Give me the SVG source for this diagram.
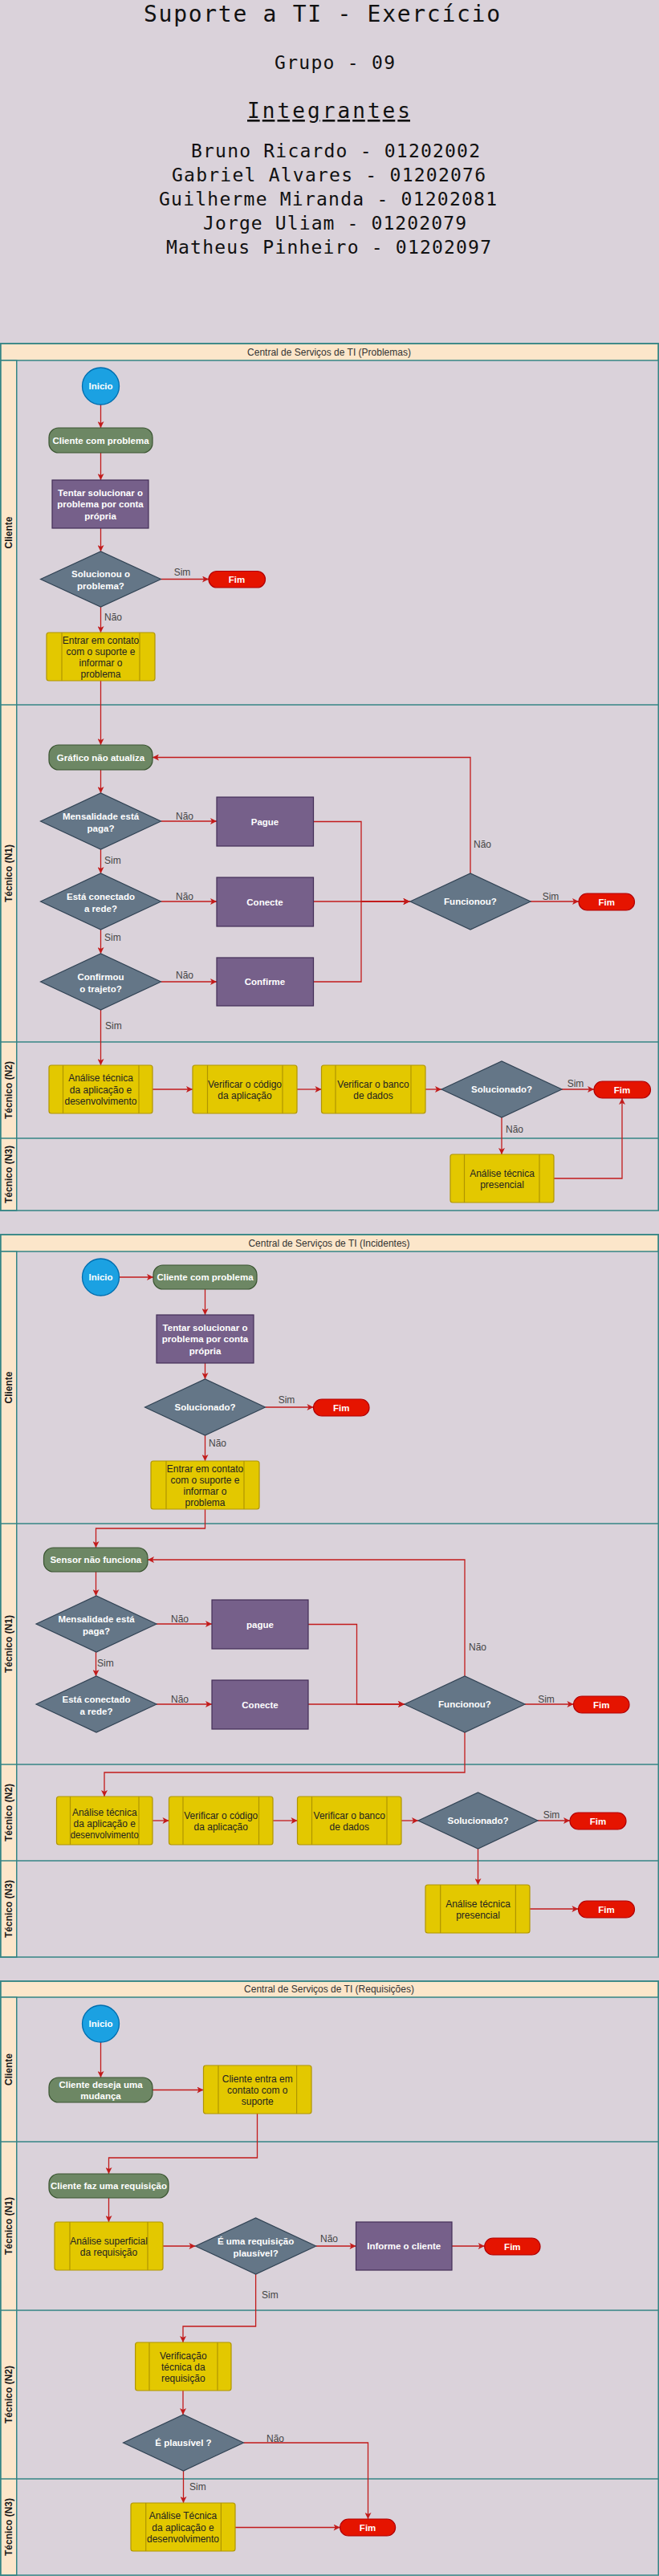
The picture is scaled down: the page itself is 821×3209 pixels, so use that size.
<svg xmlns="http://www.w3.org/2000/svg" width="821" height="3209" viewBox="0 0 821 3209">
<defs>
<style>
.bg{fill:#dad2da}
.pool{fill:none;stroke:#358585;stroke-width:1.5}
.hdr{fill:#fce6ca;stroke:#358585;stroke-width:1.5}
.ln{stroke:#358585;stroke-width:1.5;fill:none}
.e{fill:none;stroke:#c21b1b;stroke-width:1.3}
.ea{fill:none;stroke:#c21b1b;stroke-width:1.3;marker-end:url(#arr)}
.st{fill:#1ba1e2;stroke:#006eaf;stroke-width:1.3}
.gr{fill:#6d8764;stroke:#3a5431;stroke-width:1.2}
.pu{fill:#76608a;stroke:#432d57;stroke-width:1.2}
.di{fill:#647687;stroke:#314354;stroke-width:1.2}
.fim{fill:#e51400;stroke:#b20000;stroke-width:1.2}
.ye{fill:#e3c800;stroke:#b09500;stroke-width:1.2}
.yl{stroke:#b09500;stroke-width:1.2}
.w{font-family:"Liberation Sans",Arial,sans-serif;font-size:11.5px;font-weight:bold;fill:#fff;text-anchor:middle}
.k{font-family:"Liberation Sans",Arial,sans-serif;font-size:12px;fill:#222;text-anchor:middle}
.l{font-family:"Liberation Sans",Arial,sans-serif;font-size:12px;fill:#444}
.lc{font-family:"Liberation Sans",Arial,sans-serif;font-size:12px;fill:#444;text-anchor:middle}
.lane{font-family:"Liberation Sans",Arial,sans-serif;font-size:12px;font-weight:bold;fill:#1a1a1a;text-anchor:middle}
.h{font-family:"Liberation Sans",Arial,sans-serif;font-size:12px;fill:#333;text-anchor:middle}
.mono{font-family:"DejaVu Sans Mono","Liberation Mono",monospace;fill:#111}
</style>
<marker id="arr" viewBox="0 0 10 10" refX="10" refY="5" markerWidth="9" markerHeight="8" markerUnits="userSpaceOnUse" orient="auto">
<path d="M0,0 L10,5 L0,10 L2.5,5 z" fill="#c21b1b"/>
</marker>
</defs>
<rect class="bg" x="0" y="0" width="821" height="3209"/>

<g id="titulo">
<text class="mono" x="179" y="27" font-size="28" textLength="444" lengthAdjust="spacing">Suporte a TI - Exercício</text>
<text class="mono" x="342" y="86" font-size="23" textLength="150" lengthAdjust="spacing">Grupo - 09</text>
<text class="mono" x="308" y="147" font-size="26" textLength="203" lengthAdjust="spacing" text-decoration="underline">Integrantes</text>
<text class="mono" x="238" y="196" font-size="23" textLength="360" lengthAdjust="spacing">Bruno Ricardo - 01202002</text>
<text class="mono" x="214" y="226" font-size="23" textLength="391" lengthAdjust="spacing">Gabriel Alvares - 01202076</text>
<text class="mono" x="198" y="256" font-size="23" textLength="421" lengthAdjust="spacing">Guilherme Miranda - 01202081</text>
<text class="mono" x="253" y="286" font-size="23" textLength="328" lengthAdjust="spacing">Jorge Uliam - 01202079</text>
<text class="mono" x="207" y="316" font-size="23" textLength="405" lengthAdjust="spacing">Matheus Pinheiro - 01202097</text>
</g>

<!-- ================= POOL 1: Problemas ================= -->
<g id="pool-problemas">
<rect class="hdr" x="0.75" y="428" width="819.5" height="21"/>
<text class="h" x="410" y="442.5">Central de Serviços de TI (Problemas)</text>
<rect class="hdr" x="0.75" y="449" width="20" height="1059"/>
<rect class="pool" x="0.75" y="428" width="819.5" height="1080"/>
<line class="ln" x1="0.75" y1="878" x2="820.25" y2="878"/>
<line class="ln" x1="0.75" y1="1298" x2="820.25" y2="1298"/>
<line class="ln" x1="0.75" y1="1418" x2="820.25" y2="1418"/>
<text class="lane" transform="translate(15,663.5) rotate(-90)">Cliente</text>
<text class="lane" transform="translate(15,1088) rotate(-90)">Técnico (N1)</text>
<text class="lane" transform="translate(15,1358) rotate(-90)">Técnico (N2)</text>
<text class="lane" transform="translate(15,1463) rotate(-90)">Técnico (N3)</text>
</g>

<g id="p-connectors">
<line class="ea" x1="125.5" y1="504" x2="125.5" y2="533"/>
<line class="ea" x1="125.5" y1="564" x2="125.5" y2="598"/>
<line class="ea" x1="125.5" y1="658" x2="125.5" y2="687"/>
<line class="ea" x1="200.5" y1="721.5" x2="260" y2="721.5"/>
<text class="lc" x="227" y="717">Sim</text>
<line class="ea" x1="125.5" y1="756" x2="125.5" y2="788"/>
<text class="l" x="130" y="773">Não</text>
<line class="ea" x1="125.5" y1="848" x2="125.5" y2="928"/>
<line class="ea" x1="125.5" y1="959" x2="125.5" y2="988"/>
<line class="ea" x1="200.5" y1="1023" x2="270" y2="1023"/>
<text class="lc" x="230" y="1021">Não</text>
<line class="ea" x1="125.5" y1="1058" x2="125.5" y2="1088"/>
<text class="l" x="130" y="1076">Sim</text>
<line class="ea" x1="200.5" y1="1123" x2="270" y2="1123"/>
<text class="lc" x="230" y="1121">Não</text>
<line class="ea" x1="125.5" y1="1158" x2="125.5" y2="1188"/>
<text class="l" x="130" y="1172">Sim</text>
<line class="ea" x1="200.5" y1="1223" x2="270" y2="1223"/>
<text class="lc" x="230" y="1219">Não</text>
<line class="ea" x1="125.5" y1="1258" x2="125.5" y2="1327"/>
<text class="l" x="131" y="1282">Sim</text>
<path class="ea" d="M390.5,1023.5 H450 V1123 H510.5"/>
<path class="ea" d="M390.5,1123 H510.5"/>
<path class="ea" d="M390.5,1223 H450 V1123 H510.5"/>
<line class="ea" x1="661" y1="1123" x2="721" y2="1123"/>
<text class="lc" x="686" y="1121">Sim</text>
<path class="ea" d="M586,1088 V943.5 H190"/>
<text class="l" x="590" y="1056">Não</text>
<line class="ea" x1="190" y1="1357" x2="240" y2="1357"/>
<line class="ea" x1="370" y1="1357" x2="400.5" y2="1357"/>
<line class="ea" x1="530" y1="1357" x2="550" y2="1357"/>
<line class="ea" x1="700" y1="1357" x2="740" y2="1357"/>
<text class="lc" x="717" y="1354">Sim</text>
<line class="ea" x1="625" y1="1392" x2="625" y2="1438"/>
<text class="l" x="630" y="1411">Não</text>
<path class="ea" d="M690,1468 H775 V1368"/>
</g>

<g id="p-inicio"><circle class="st" cx="125.5" cy="481" r="23"/><text class="w" x="125.5" y="485">Inicio</text></g>
<g id="p-cliente"><rect class="gr" x="61" y="533" width="129" height="31" rx="12"/><text class="w" x="125.5" y="552.5">Cliente com problema</text></g>
<g id="p-tentar"><rect class="pu" x="65" y="598" width="120" height="60"/><text class="w" x="125" y="617.5">Tentar solucionar o</text><text class="w" x="125" y="632">problema por conta</text><text class="w" x="125" y="646.5">própria</text></g>
<g id="p-solucionou"><polygon class="di" points="50.5,721.5 125.5,687 200.5,721.5 125.5,756"/><text class="w" x="125.5" y="719">Solucionou o</text><text class="w" x="125.5" y="733.5">problema?</text></g>
<g id="p-fim1"><rect class="fim" x="260" y="711.5" width="70.5" height="20.5" rx="10.25"/><text class="w" x="295" y="726">Fim</text></g>
<g id="p-entrar"><rect class="ye" x="58" y="788" width="135" height="60" rx="3"/><line class="yl" x1="77" y1="788" x2="77" y2="848"/><line class="yl" x1="174" y1="788" x2="174" y2="848"/><text class="k" x="125.5" y="802">Entrar em contato</text><text class="k" x="125.5" y="816">com o suporte e</text><text class="k" x="125.5" y="830">informar o</text><text class="k" x="125.5" y="844">problema</text></g>
<g id="p-grafico"><rect class="gr" x="61" y="928" width="129" height="31" rx="12"/><text class="w" x="125.5" y="947.5">Gráfico não atualiza</text></g>
<g id="p-mensalidade"><polygon class="di" points="50.5,1023 125.5,988 200.5,1023 125.5,1058"/><text class="w" x="125.5" y="1021">Mensalidade está</text><text class="w" x="125.5" y="1035.5">paga?</text></g>
<g id="p-pague"><rect class="pu" x="270" y="993" width="120.5" height="61"/><text class="w" x="330" y="1027.5">Pague</text></g>
<g id="p-conectado"><polygon class="di" points="50.5,1123 125.5,1088 200.5,1123 125.5,1158"/><text class="w" x="125.5" y="1121">Está conectado</text><text class="w" x="125.5" y="1135.5">a rede?</text></g>
<g id="p-conecte"><rect class="pu" x="270" y="1093" width="120.5" height="61"/><text class="w" x="330" y="1127.5">Conecte</text></g>
<g id="p-confirmou"><polygon class="di" points="50.5,1223 125.5,1188 200.5,1223 125.5,1258"/><text class="w" x="125.5" y="1221">Confirmou</text><text class="w" x="125.5" y="1235.5">o trajeto?</text></g>
<g id="p-confirme"><rect class="pu" x="270" y="1193" width="120.5" height="60"/><text class="w" x="330" y="1227">Confirme</text></g>
<g id="p-funcionou"><polygon class="di" points="511,1123 586,1088 661,1123 586,1158"/><text class="w" x="586" y="1127">Funcionou?</text></g>
<g id="p-fim2"><rect class="fim" x="721" y="1113" width="69.5" height="21" rx="10.5"/><text class="w" x="755.75" y="1127.5">Fim</text></g>
<g id="p-analise"><rect class="ye" x="61" y="1327" width="129" height="60" rx="3"/><line class="yl" x1="78.5" y1="1327" x2="78.5" y2="1387"/><line class="yl" x1="173" y1="1327" x2="173" y2="1387"/><text class="k" x="125.5" y="1347">Análise técnica</text><text class="k" x="125.5" y="1361.5">da aplicação e</text><text class="k" x="125.5" y="1376">desenvolvimento</text></g>
<g id="p-codigo"><rect class="ye" x="240" y="1327" width="130" height="60" rx="3"/><line class="yl" x1="258.5" y1="1327" x2="258.5" y2="1387"/><line class="yl" x1="352" y1="1327" x2="352" y2="1387"/><text class="k" x="305" y="1355">Verificar o código</text><text class="k" x="305" y="1369">da aplicação</text></g>
<g id="p-banco"><rect class="ye" x="400.5" y="1327" width="129.5" height="60" rx="3"/><line class="yl" x1="418" y1="1327" x2="418" y2="1387"/><line class="yl" x1="512" y1="1327" x2="512" y2="1387"/><text class="k" x="465" y="1355">Verificar o banco</text><text class="k" x="465" y="1369">de dados</text></g>
<g id="p-solucionado"><polygon class="di" points="550,1357 625,1322 700,1357 625,1392"/><text class="w" x="625" y="1361">Solucionado?</text></g>
<g id="p-fim3"><rect class="fim" x="740" y="1347" width="70.5" height="21" rx="10.5"/><text class="w" x="775" y="1361.5">Fim</text></g>
<g id="p-presencial"><rect class="ye" x="561" y="1438" width="129" height="60" rx="3"/><line class="yl" x1="578.5" y1="1438" x2="578.5" y2="1498"/><line class="yl" x1="672" y1="1438" x2="672" y2="1498"/><text class="k" x="625.5" y="1466">Análise técnica</text><text class="k" x="625.5" y="1480">presencial</text></g>

<!-- ================= POOL 2: Incidentes ================= -->
<g id="pool-incidentes">
<rect class="hdr" x="0.75" y="1538" width="819.5" height="21"/>
<text class="h" x="410" y="1552.5">Central de Serviços de TI (Incidentes)</text>
<rect class="hdr" x="0.75" y="1559" width="20" height="879"/>
<rect class="pool" x="0.75" y="1538" width="819.5" height="900"/>
<line class="ln" x1="0.75" y1="1898" x2="820.25" y2="1898"/>
<line class="ln" x1="0.75" y1="2198" x2="820.25" y2="2198"/>
<line class="ln" x1="0.75" y1="2318" x2="820.25" y2="2318"/>
<text class="lane" transform="translate(15,1728.5) rotate(-90)">Cliente</text>
<text class="lane" transform="translate(15,2048) rotate(-90)">Técnico (N1)</text>
<text class="lane" transform="translate(15,2258) rotate(-90)">Técnico (N2)</text>
<text class="lane" transform="translate(15,2378) rotate(-90)">Técnico (N3)</text>
</g>

<g id="i-connectors">
<line class="ea" x1="148.5" y1="1591" x2="191" y2="1591"/>
<line class="ea" x1="255.5" y1="1606" x2="255.5" y2="1638"/>
<line class="ea" x1="255.5" y1="1698" x2="255.5" y2="1718"/>
<line class="ea" x1="330.5" y1="1753" x2="390.5" y2="1753"/>
<text class="lc" x="357" y="1748">Sim</text>
<line class="ea" x1="255.5" y1="1788" x2="255.5" y2="1820"/>
<text class="l" x="260" y="1802">Não</text>
<path class="ea" d="M255.5,1880 V1904 H119.5 V1928"/>
<line class="ea" x1="119.5" y1="1958" x2="119.5" y2="1988"/>
<line class="ea" x1="195" y1="2023" x2="264" y2="2023"/>
<text class="lc" x="224" y="2021">Não</text>
<line class="ea" x1="119.5" y1="2058" x2="119.5" y2="2088"/>
<text class="l" x="121" y="2076">Sim</text>
<line class="ea" x1="195" y1="2123" x2="264" y2="2123"/>
<text class="lc" x="224" y="2121">Não</text>
<path class="ea" d="M384,2023.5 H444.5 V2123 H504"/>
<path class="ea" d="M384,2123 H504"/>
<line class="ea" x1="654" y1="2123" x2="714.5" y2="2123"/>
<text class="lc" x="680.5" y="2121">Sim</text>
<path class="ea" d="M579,2088 V1943 H184"/>
<text class="l" x="584" y="2056">Não</text>
<path class="ea" d="M579,2158 V2208 H130 V2238"/>
<line class="ea" x1="190" y1="2268" x2="210.5" y2="2268"/>
<line class="ea" x1="340" y1="2268" x2="370.5" y2="2268"/>
<line class="ea" x1="500" y1="2268" x2="521" y2="2268"/>
<line class="ea" x1="670" y1="2268" x2="710" y2="2268"/>
<text class="lc" x="687" y="2265">Sim</text>
<line class="ea" x1="595.5" y1="2303" x2="595.5" y2="2348"/>
<line class="ea" x1="660" y1="2378" x2="720.5" y2="2378"/>
</g>

<g id="i-inicio"><circle class="st" cx="125.5" cy="1591" r="23"/><text class="w" x="125.5" y="1595">Inicio</text></g>
<g id="i-cliente"><rect class="gr" x="191" y="1576" width="129" height="30" rx="12"/><text class="w" x="255.5" y="1595">Cliente com problema</text></g>
<g id="i-tentar"><rect class="pu" x="195" y="1638" width="121" height="60"/><text class="w" x="255.5" y="1657.5">Tentar solucionar o</text><text class="w" x="255.5" y="1672">problema por conta</text><text class="w" x="255.5" y="1686.5">própria</text></g>
<g id="i-solucionado"><polygon class="di" points="180.5,1753 255.5,1718 330.5,1753 255.5,1788"/><text class="w" x="255.5" y="1757">Solucionado?</text></g>
<g id="i-fim1"><rect class="fim" x="390.5" y="1743" width="69.5" height="21" rx="10.5"/><text class="w" x="425.25" y="1757.5">Fim</text></g>
<g id="i-entrar"><rect class="ye" x="188" y="1820" width="135" height="60" rx="3"/><line class="yl" x1="207" y1="1820" x2="207" y2="1880"/><line class="yl" x1="304" y1="1820" x2="304" y2="1880"/><text class="k" x="255.5" y="1834">Entrar em contato</text><text class="k" x="255.5" y="1848">com o suporte e</text><text class="k" x="255.5" y="1862">informar o</text><text class="k" x="255.5" y="1876">problema</text></g>
<g id="i-sensor"><rect class="gr" x="54.5" y="1928" width="129.5" height="30" rx="12"/><text class="w" x="119.3" y="1947">Sensor não funciona</text></g>
<g id="i-mensalidade"><polygon class="di" points="45,2023 120,1988 195,2023 120,2058"/><text class="w" x="120" y="2021">Mensalidade está</text><text class="w" x="120" y="2035.5">paga?</text></g>
<g id="i-pague"><rect class="pu" x="264" y="1993" width="120" height="61"/><text class="w" x="324" y="2027.5">pague</text></g>
<g id="i-conectado"><polygon class="di" points="45,2123 120,2088 195,2123 120,2158"/><text class="w" x="120" y="2121">Está conectado</text><text class="w" x="120" y="2135.5">a rede?</text></g>
<g id="i-conecte"><rect class="pu" x="264" y="2093" width="120" height="61"/><text class="w" x="324" y="2127.5">Conecte</text></g>
<g id="i-funcionou"><polygon class="di" points="504,2123 579,2088 654,2123 579,2158"/><text class="w" x="579" y="2127">Funcionou?</text></g>
<g id="i-fim2"><rect class="fim" x="714.5" y="2113" width="69.5" height="21" rx="10.5"/><text class="w" x="749.25" y="2127.5">Fim</text></g>
<g id="i-analise"><rect class="ye" x="70.5" y="2238" width="119.5" height="60" rx="3"/><line class="yl" x1="87.5" y1="2238" x2="87.5" y2="2298"/><line class="yl" x1="173" y1="2238" x2="173" y2="2298"/><text class="k" x="130.25" y="2262">Análise técnica</text><text class="k" x="130.25" y="2276">da aplicação e</text><text class="k" x="130.25" y="2290" textLength="85" lengthAdjust="spacingAndGlyphs">desenvolvimento</text></g>
<g id="i-codigo"><rect class="ye" x="210.5" y="2238" width="129.5" height="60" rx="3"/><line class="yl" x1="228" y1="2238" x2="228" y2="2298"/><line class="yl" x1="322.5" y1="2238" x2="322.5" y2="2298"/><text class="k" x="275.25" y="2266">Verificar o código</text><text class="k" x="275.25" y="2280">da aplicação</text></g>
<g id="i-banco"><rect class="ye" x="370.5" y="2238" width="129.5" height="60" rx="3"/><line class="yl" x1="388.5" y1="2238" x2="388.5" y2="2298"/><line class="yl" x1="482" y1="2238" x2="482" y2="2298"/><text class="k" x="435.25" y="2266">Verificar o banco</text><text class="k" x="435.25" y="2280">de dados</text></g>
<g id="i-solucionado2"><polygon class="di" points="521,2268 595.5,2233 670,2268 595.5,2303"/><text class="w" x="595.5" y="2272">Solucionado?</text></g>
<g id="i-fim3"><rect class="fim" x="710" y="2258" width="70" height="21" rx="10.5"/><text class="w" x="745" y="2272.5">Fim</text></g>
<g id="i-presencial"><rect class="ye" x="530" y="2348" width="130" height="60" rx="3"/><line class="yl" x1="548.7" y1="2348" x2="548.7" y2="2408"/><line class="yl" x1="642.4" y1="2348" x2="642.4" y2="2408"/><text class="k" x="595.5" y="2376">Análise técnica</text><text class="k" x="595.5" y="2390">presencial</text></g>
<g id="i-fim4"><rect class="fim" x="720.5" y="2368" width="70" height="21" rx="10.5"/><text class="w" x="755.5" y="2382.5">Fim</text></g>

<!-- ================= POOL 3: Requisições ================= -->
<g id="pool-requisicoes">
<rect class="hdr" x="0.75" y="2468" width="819.5" height="20"/>
<text class="h" x="410" y="2482">Central de Serviços de TI (Requisições)</text>
<rect class="hdr" x="0.75" y="2488" width="20" height="720"/>
<rect class="pool" x="0.75" y="2468" width="819.5" height="740"/>
<line class="ln" x1="0.75" y1="2668" x2="820.25" y2="2668"/>
<line class="ln" x1="0.75" y1="2878" x2="820.25" y2="2878"/>
<line class="ln" x1="0.75" y1="3088" x2="820.25" y2="3088"/>
<text class="lane" transform="translate(15,2578) rotate(-90)">Cliente</text>
<text class="lane" transform="translate(15,2773) rotate(-90)">Técnico (N1)</text>
<text class="lane" transform="translate(15,2983) rotate(-90)">Técnico (N2)</text>
<text class="lane" transform="translate(15,3148) rotate(-90)">Técnico (N3)</text>
</g>

<g id="r-connectors">
<line class="ea" x1="125.5" y1="2544" x2="125.5" y2="2588"/>
<line class="ea" x1="190" y1="2603.5" x2="253.5" y2="2603.5"/>
<path class="ea" d="M320.5,2633 V2688 H135.5 V2708"/>
<line class="ea" x1="135.5" y1="2738" x2="135.5" y2="2768"/>
<line class="ea" x1="203" y1="2798" x2="243.5" y2="2798"/>
<line class="ea" x1="393.7" y1="2798" x2="443.5" y2="2798"/>
<text class="lc" x="410" y="2793">Não</text>
<line class="ea" x1="563" y1="2798" x2="603.7" y2="2798"/>
<path class="ea" d="M318.6,2833 V2898 H228 V2918"/>
<text class="l" x="326" y="2863">Sim</text>
<line class="ea" x1="228" y1="2978" x2="228" y2="3008"/>
<path class="ea" d="M303.5,3043 H458.5 V3138"/>
<text class="lc" x="343" y="3042">Não</text>
<line class="ea" x1="228.5" y1="3078" x2="228.5" y2="3118"/>
<text class="l" x="236" y="3102">Sim</text>
<line class="ea" x1="293" y1="3148.5" x2="423.6" y2="3148.5"/>
</g>

<g id="r-inicio"><circle class="st" cx="125.5" cy="2521" r="23"/><text class="w" x="125.5" y="2525">Inicio</text></g>
<g id="r-cliente"><rect class="gr" x="61" y="2588" width="129" height="31" rx="12"/><text class="w" x="125.5" y="2601">Cliente deseja uma</text><text class="w" x="125.5" y="2615">mudança</text></g>
<g id="r-entra"><rect class="ye" x="253.5" y="2573" width="134.5" height="60" rx="3"/><line class="yl" x1="272" y1="2573" x2="272" y2="2633"/><line class="yl" x1="369.6" y1="2573" x2="369.6" y2="2633"/><text class="k" x="320.75" y="2594">Cliente entra em</text><text class="k" x="320.75" y="2608">contato com o</text><text class="k" x="320.75" y="2622">suporte</text></g>
<g id="r-faz"><rect class="gr" x="61" y="2708" width="149" height="30" rx="12"/><text class="w" x="135.5" y="2727">Cliente faz uma requisição</text></g>
<g id="r-superficial"><rect class="ye" x="68" y="2768" width="135" height="60" rx="3"/><line class="yl" x1="87" y1="2768" x2="87" y2="2828"/><line class="yl" x1="184" y1="2768" x2="184" y2="2828"/><text class="k" x="135.5" y="2796">Análise superficial</text><text class="k" x="135.5" y="2810">da requisição</text></g>
<g id="r-plausivel1"><polygon class="di" points="243.5,2798 318.6,2763 393.7,2798 318.6,2833"/><text class="w" x="318.6" y="2796">É uma requisição</text><text class="w" x="318.6" y="2810.5">plausível?</text></g>
<g id="r-informe"><rect class="pu" x="443.5" y="2768" width="119.5" height="60"/><text class="w" x="503.25" y="2802">Informe o cliente</text></g>
<g id="r-fim1"><rect class="fim" x="603.7" y="2788" width="69.3" height="21" rx="10.5"/><text class="w" x="638.35" y="2802.5">Fim</text></g>
<g id="r-verificacao"><rect class="ye" x="168.6" y="2918" width="119.4" height="60" rx="3"/><line class="yl" x1="186" y1="2918" x2="186" y2="2978"/><line class="yl" x1="271" y1="2918" x2="271" y2="2978"/><text class="k" x="228.3" y="2939">Verificação</text><text class="k" x="228.3" y="2953">técnica da</text><text class="k" x="228.3" y="2967">requisição</text></g>
<g id="r-plausivel2"><polygon class="di" points="153.5,3043 228.5,3008 303.5,3043 228.5,3078"/><text class="w" x="228.5" y="3047">É plausível ?</text></g>
<g id="r-analise"><rect class="ye" x="163" y="3118" width="130" height="60" rx="3"/><line class="yl" x1="181.7" y1="3118" x2="181.7" y2="3178"/><line class="yl" x1="275.4" y1="3118" x2="275.4" y2="3178"/><text class="k" x="228" y="3138">Análise Técnica</text><text class="k" x="228" y="3153">da aplicação e</text><text class="k" x="228" y="3167" textLength="90" lengthAdjust="spacingAndGlyphs">desenvolvimento</text></g>
<g id="r-fim2"><rect class="fim" x="423.6" y="3138" width="69" height="21" rx="10.5"/><text class="w" x="458.1" y="3152.5">Fim</text></g>
</svg>
